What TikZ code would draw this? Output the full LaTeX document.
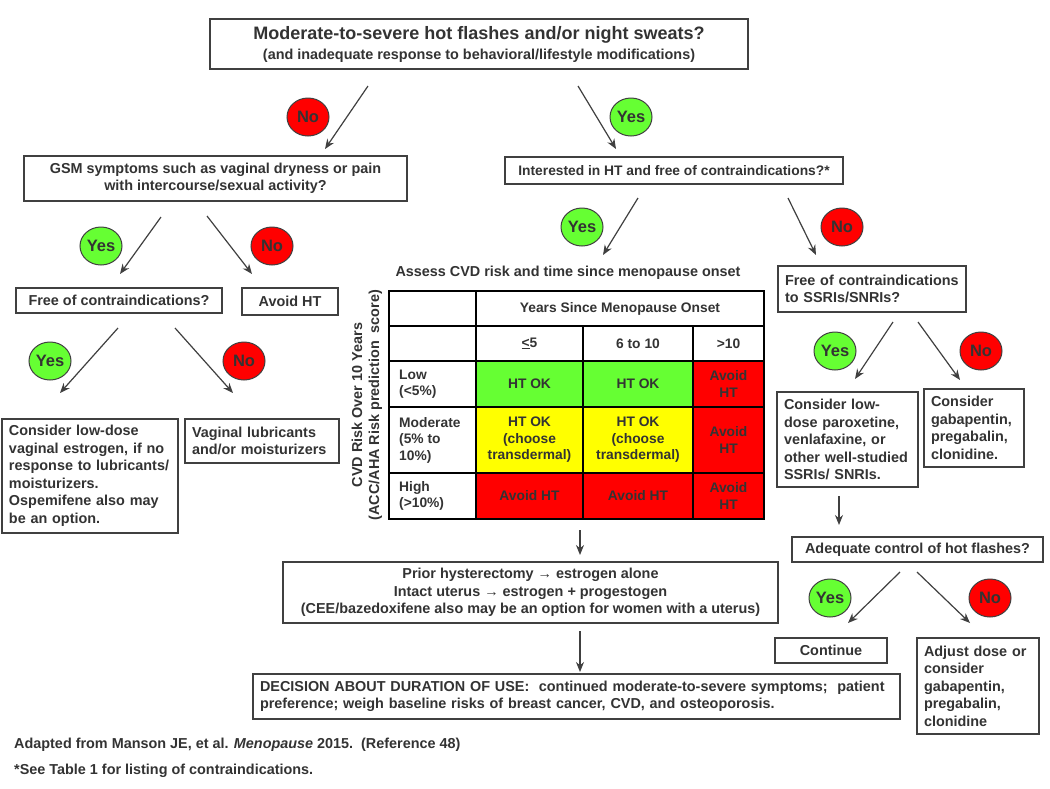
\documentclass[tikz,border=0pt]{standalone}
\usepackage{fontspec}
\setmainfont{Liberation Sans}
\usetikzlibrary{shapes.geometric,arrows.meta}
\definecolor{txt}{HTML}{333333}
\definecolor{boxc}{HTML}{404040}
\definecolor{yesg}{HTML}{66FF33}
\definecolor{nor}{HTML}{FF0000}
\definecolor{yel}{HTML}{FFFF00}
\begin{document}
\begin{tikzpicture}[x=1pt,y=-1pt,
  box/.style={draw=boxc, line width=1.4pt, fill=white, inner sep=0pt, align=center, text=txt, font=\bfseries\fontsize{14.4}{17.5}\selectfont},
  lbox/.style={box, align=left, inner xsep=7pt},
  yes/.style={ellipse, draw=boxc, line width=1pt, fill=yesg, minimum width=42pt, minimum height=38pt, inner sep=0pt, font=\bfseries\fontsize{16.5}{16.5}\selectfont, text=txt},
  no/.style={yes, fill=nor},
  arr/.style={draw=boxc, line width=1.2pt, -{Stealth[length=10pt,width=8pt]}},
  lbl/.style={text=txt, font=\bfseries\fontsize{14.4}{17}\selectfont, inner sep=0pt},
  cell/.style={text=txt, font=\bfseries\fontsize{13.8}{16.5}\selectfont, inner sep=0pt, align=center},
  grid/.style={draw=black, line width=1.6pt}]
\useasboundingbox (0,0) rectangle (1050,788);
\fill[white] (0,0) rectangle (1050,788);

% ---------- boxes ----------
\node[box, minimum width=538pt, minimum height=50pt] (top) at (479,44)
  {{\fontsize{18}{19}\selectfont Moderate-to-severe hot flashes and/or night sweats?}\\[2.5pt]
   {\fontsize{14.4}{15}\selectfont (and inadequate response to behavioral/lifestyle modifications)}};
\node[box, minimum width=383pt, minimum height=45pt] (gsm) at (215.5,178.5)
  {GSM symptoms such as vaginal dryness or pain\\with intercourse/sexual activity?};
\node[box, minimum width=338pt, minimum height=27pt, font=\bfseries\fontsize{13.8}{17}\selectfont] (int) at (674,170.5)
  {Interested in HT and free of contraindications?*};
\node[box, minimum width=206pt, minimum height=25pt] (free) at (119,300.5)
  {Free of contraindications?};
\node[box, minimum width=96pt, minimum height=27pt] (avoid) at (290,301.5) {Avoid HT};
\node[lbox, text width=174pt, minimum height=46pt] (ssri) at (872,289)
  {Free of contraindications\\to SSRIs/SNRIs?};
\node[lbox, text width=162pt, minimum height=114pt] (lowdose) at (90,476)
  {Consider low-dose\\vaginal estrogen, if no\\response to lubricants/\\moisturizers.\\Ospemifene also may\\be an option.};
\node[lbox, text width=140pt, minimum height=44pt] (lubric) at (262,441)
  {Vaginal lubricants\\and/or moisturizers};
\node[lbox, text width=127pt, minimum height=95pt] (parox) at (847.5,439.5)
  {Consider low-\\dose paroxetine,\\venlafaxine, or\\other well-studied\\SSRIs/ SNRIs.};
\node[lbox, text width=86pt, minimum height=78pt] (gaba) at (974,428)
  {Consider\\gabapentin,\\pregabalin,\\clonidine.};
\node[box, minimum width=251pt, minimum height=25pt] (adeq) at (917.5,549.5)
  {Adequate control of hot flashes?};
\node[box, minimum width=112pt, minimum height=25pt] (cont) at (831,650.5) {Continue};
\node[lbox, text width=108pt, minimum height=96pt] (adjust) at (978,686)
  {Adjust dose or\\consider\\gabapentin,\\pregabalin,\\clonidine};
\node[box, minimum width=495pt, minimum height=61pt] (prior) at (530.5,592.5)
  {Prior hysterectomy → estrogen alone\\Intact uterus → estrogen + progestogen\\(CEE/bazedoxifene also may be an option for women with a uterus)};
\node[lbox, text width=633pt, minimum height=45pt] (dec) at (576.5,696.5)
  {DECISION ABOUT DURATION OF USE:\ \ continued moderate-to-severe symptoms;\ \ patient\\preference; weigh baseline risks of breast cancer, CVD, and osteoporosis.};

% ---------- circles ----------
\node[no]  (no1)  at (308,117) {No};
\node[yes] (yes1) at (631,117) {Yes};
\node[yes] (yes2) at (101,246) {Yes};
\node[no]  (no2)  at (272,246) {No};
\node[yes] (yes3) at (582,227) {Yes};
\node[no]  (no3)  at (842,227) {No};
\node[yes] (yes4) at (50,361)  {Yes};
\node[no]  (no4)  at (244,361) {No};
\node[yes] (yes5) at (835,351) {Yes};
\node[no]  (no5)  at (981,351) {No};
\node[yes] (yes6) at (830,598) {Yes};
\node[no]  (no6)  at (990,598) {No};

% ---------- table ----------
\fill[yesg] (476,361) rectangle (693,407);
\fill[yel]  (476,407) rectangle (693,473);
\fill[nor]  (693,361) rectangle (764,519);
\fill[nor]  (476,473) rectangle (693,519);
\draw[grid] (389,291) rectangle (764,519);
\draw[grid] (389,326) -- (764,326);
\draw[grid] (389,361) -- (764,361);
\draw[grid] (389,407) -- (764,407);
\draw[grid] (389,473) -- (764,473);
\draw[grid] (476,291) -- (476,519);
\draw[grid] (583,326) -- (583,519);
\draw[grid] (693,326) -- (693,519);

\node[lbl] (assess) at (568,273) {Assess CVD risk and time since menopause onset};
\node[lbl, rotate=90, align=center, font=\bfseries\fontsize{14.4}{17}\selectfont] (cvd) at (367,405)
  {CVD Risk Over 10 Years\\(ACC/AHA Risk prediction\ \ score)};

\node[cell] (hdr) at (620,308.5) {Years Since Menopause Onset};
\node[cell] (h1) at (529.5,343.5) {\underline{<}5};
\node[cell] (h2) at (638,343.5) {6 to 10};
\node[cell] (h3) at (728.5,343.5) {>10};
\node[cell, align=left, anchor=west] (r1) at (399,384) {Low\\(<5\%)};
\node[cell, align=left, anchor=west] (r2) at (399,440) {Moderate\\(5\% to\\10\%)};
\node[cell, align=left, anchor=west] (r3) at (399,496) {High\\(>10\%)};
\node[cell] (c11) at (529.5,384) {HT OK};
\node[cell] (c12) at (638,384) {HT OK};
\node[cell] (c13) at (728.5,384) {Avoid\\HT};
\node[cell] (c21) at (529.5,440) {HT OK\\(choose\\transdermal)};
\node[cell] (c22) at (638,440) {HT OK\\(choose\\transdermal)};
\node[cell] (c23) at (728.5,440) {Avoid\\HT};
\node[cell] (c31) at (529.5,496) {Avoid HT};
\node[cell] (c32) at (638,496) {Avoid HT};
\node[cell] (c33) at (728.5,496) {Avoid\\HT};

% ---------- footnotes ----------
\node[lbl, anchor=west] (fn1) at (14,745) {Adapted from Manson JE, et al. \textit{Menopause} 2015.\ \ (Reference 48)};
\node[lbl, anchor=west] (fn2) at (14,771) {*See Table 1 for listing of contraindications.};

% ---------- arrows ----------
\coordinate (a1s) at (368,86);  \coordinate (a1e) at (325,149);
\coordinate (a2s) at (578,86);  \coordinate (a2e) at (616,149);
\coordinate (a3s) at (161,217); \coordinate (a3e) at (120,274);
\coordinate (a4s) at (207,216); \coordinate (a4e) at (252,274);
\coordinate (a5s) at (638,198); \coordinate (a5e) at (603,255);
\coordinate (a6s) at (788,198); \coordinate (a6e) at (816,255);
\coordinate (a7s) at (118,328); \coordinate (a7e) at (60,393);
\coordinate (a8s) at (175,328); \coordinate (a8e) at (233,393);
\coordinate (a9s) at (893,322); \coordinate (a9e) at (855,379);
\coordinate (a10s) at (918,322); \coordinate (a10e) at (960,380);
\coordinate (a11s) at (839,496); \coordinate (a11e) at (839,525);
\coordinate (a12s) at (900,572); \coordinate (a12e) at (848,623);
\coordinate (a13s) at (917,572); \coordinate (a13e) at (970,623);
\coordinate (a14s) at (580,530); \coordinate (a14e) at (580,555);
\coordinate (a15s) at (580,631); \coordinate (a15e) at (580,672);
\foreach \i in {1,...,15} \draw[arr] (a\i s) -- (a\i e);
\end{tikzpicture}
\end{document}
